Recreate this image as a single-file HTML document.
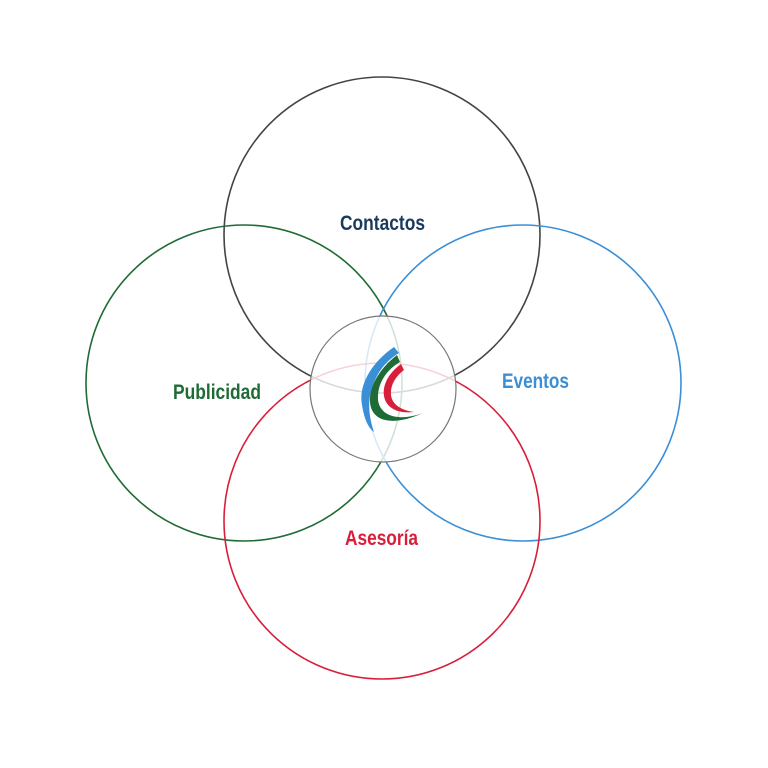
<!DOCTYPE html>
<html><head><meta charset="utf-8"><style>
html,body{margin:0;padding:0;background:#fff;width:768px;height:768px;overflow:hidden}
svg{display:block}
</style></head><body>
<svg xmlns="http://www.w3.org/2000/svg" width="768" height="768" viewBox="0 0 768 768" style="width:768px;height:768px">
<g fill="none" stroke-width="1.6">
<circle cx="382" cy="235" r="158" stroke="#444"/>
<circle cx="244" cy="383" r="158" stroke="#1f6b35"/>
<circle cx="523" cy="383" r="158" stroke="#3b8fd6"/>
<circle cx="382" cy="521" r="158" stroke="#d81e3a"/>
</g>
<circle cx="383" cy="389" r="73" fill="#ffffff" fill-opacity="0.8" stroke="#777" stroke-width="1.2"/>
<g>
<path d="M394 347 C372 362 358 385 362 405 C364 418 368 428 374 432 C370 420 368 408 370 396 C374 376 384 362 399 353 Z" fill="#3b8fd6"/>
<path d="M397 355 C380 368 369 386 370 402 C371 420 390 428 423 413 C398 422 380 416 378 400 C377 384 386 370 400 362 Z" fill="#1f6b35"/>
<path d="M401 364 C390 372 382 384 384 396 C386 408 398 414 414 412 C400 410 392 404 391 395 C390 385 396 376 404 370 Z" fill="#d81e3a"/>
</g>
<g font-family="Liberation Sans Narrow, Liberation Sans, sans-serif" font-weight="bold" font-size="21">
<text x="340" y="230" fill="#1a3a5c" textLength="85" lengthAdjust="spacingAndGlyphs" style="font-size:21px;font-weight:bold">Contactos</text>
<text x="173" y="399" fill="#1f6b35" textLength="88" lengthAdjust="spacingAndGlyphs" style="font-size:21px;font-weight:bold">Publicidad</text>
<text x="502" y="388" fill="#3b8fd6" textLength="67" lengthAdjust="spacingAndGlyphs" style="font-size:21px;font-weight:bold">Eventos</text>
<text x="345" y="545" fill="#d81e3a" textLength="73" lengthAdjust="spacingAndGlyphs" style="font-size:21px;font-weight:bold">Asesoría</text>
</g>
</svg>
</body></html>
